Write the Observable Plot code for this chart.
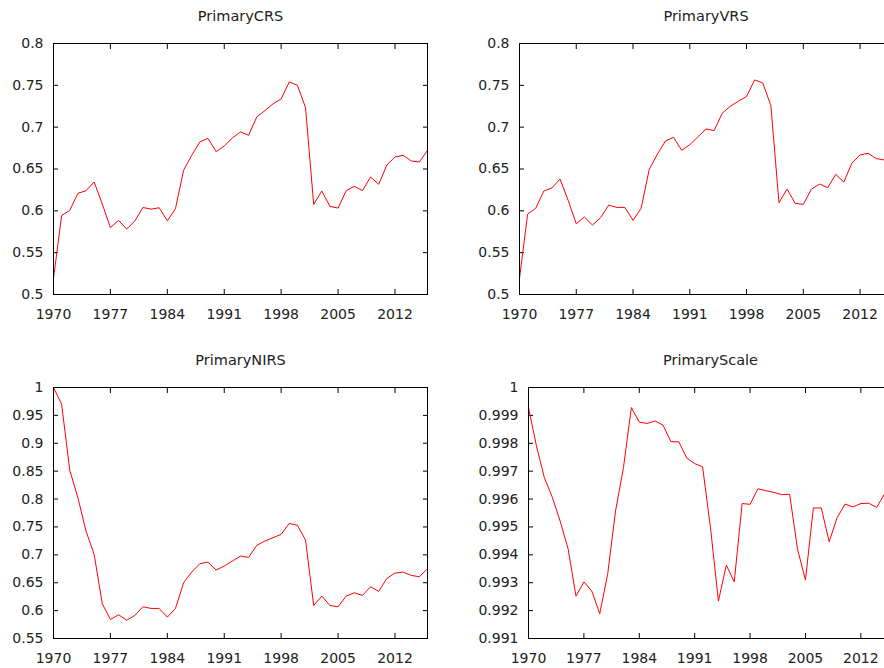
<!DOCTYPE html>
<html><head><meta charset="utf-8">
<script src="https://cdn.jsdelivr.net/npm/d3@7"></script>
<script src="https://cdn.jsdelivr.net/npm/@observablehq/plot@0.6"></script>
<style>
body{margin:0;background:#fff;}
#wrap{position:relative;width:884px;height:668px;overflow:hidden;background:#fff;}
#wrap svg{position:absolute;max-width:none;}
#wrap svg text{font-family:'DejaVu Sans',sans-serif;fill:#222;}
</style></head><body><div id="wrap"></div>
<script>
const years = [1970,1971,1972,1973,1974,1975,1976,1977,1978,1979,1980,1981,1982,1983,1984,1985,1986,1987,1988,1989,1990,1991,1992,1993,1994,1995,1996,1997,1998,1999,2000,2001,2002,2003,2004,2005,2006,2007,2008,2009,2010,2011,2012,2013,2014,2015,2016];

const primaryCRS = [0.519,0.5945,0.6005,0.621,0.624,0.6345,0.608,0.580,0.5886,0.5782,0.5878,0.604,0.602,0.6037,0.588,0.6025,0.6484,0.6664,0.6823,0.6867,0.6707,0.6775,0.6871,0.6943,0.6903,0.7122,0.7198,0.7278,0.7338,0.7541,0.7501,0.7234,0.6077,0.6237,0.6053,0.6033,0.6241,0.6293,0.6241,0.6404,0.6317,0.6548,0.6644,0.6664,0.6596,0.6584,0.6723];

const primaryVRS = [0.519,0.5961,0.603,0.6237,0.6273,0.638,0.6125,0.5846,0.5926,0.583,0.5918,0.6069,0.6041,0.6041,0.5886,0.603,0.6496,0.6676,0.6835,0.6879,0.6723,0.6791,0.6883,0.6979,0.6959,0.7166,0.725,0.731,0.7366,0.7565,0.7529,0.7258,0.6097,0.626,0.6089,0.6077,0.626,0.632,0.6277,0.6436,0.6344,0.6572,0.6668,0.6688,0.6624,0.6608,0.674];

const primaryNIRS = [1.0,0.970,0.8516,0.8025,0.7427,0.7008,0.6122,0.5841,0.5925,0.5829,0.5913,0.6069,0.6039,0.6039,0.5883,0.6039,0.6499,0.6691,0.684,0.687,0.6727,0.6799,0.6888,0.6978,0.6954,0.717,0.7247,0.7307,0.7367,0.7564,0.7529,0.7265,0.6092,0.626,0.6092,0.6069,0.626,0.632,0.6272,0.6428,0.6344,0.6577,0.6673,0.6691,0.6631,0.6607,0.6751];

const primaryScale = [0.99928,0.99791,0.99677,0.99607,0.99521,0.99422,0.99252,0.99303,0.9927,0.99189,0.9933,0.99557,0.99713,0.99928,0.99876,0.99871,0.9988,0.99865,0.99806,0.99805,0.99747,0.99727,0.99716,0.99497,0.99234,0.99363,0.99303,0.99584,0.99581,0.99637,0.9963,0.99624,0.99616,0.99617,0.9942,0.9931,0.99568,0.99568,0.99447,0.99533,0.99582,0.99572,0.99584,0.99585,0.9957,0.99619,0.9965];

const xTicks = [1970,1977,1984,1991,1998,2005,2012];
const ticksEff = [0.5,0.55,0.6,0.65,0.7,0.75,0.8];
const ticksNIRS = [0.55,0.6,0.65,0.7,0.75,0.8,0.85,0.9,0.95,1];
const ticksScale = [0.991,0.992,0.993,0.994,0.995,0.996,0.997,0.998,0.999,1];
const titles = ["PrimaryCRS","PrimaryVRS","PrimaryNIRS","PrimaryScale"];

const wrap = document.getElementById("wrap");

function panel(title, values, yTicks, box) {
  const data = years.map((y, i) => ({year: y, value: values[i]}));
  const svg = Plot.plot({
    width: box.w, height: box.h,
    marginLeft: box.ml, marginRight: box.mr, marginTop: box.mt, marginBottom: box.mb,
    style: {fontFamily: "'DejaVu Sans', sans-serif", fontSize: "14px", color: "#222", background: "transparent", overflow: "visible"},
    x: {domain: [1970, 2016]},
    y: {domain: [yTicks[0], yTicks[yTicks.length - 1]]},
    marks: [
      Plot.axisX(xTicks, {anchor: "bottom", tickSize: -5, tickPadding: 19.5, tickFormat: d => String(d), label: null, stroke: "black", fontSize: 14}),
      Plot.axisX(xTicks, {anchor: "top", tickSize: -5, tickFormat: () => "", label: null, stroke: "black"}),
      Plot.axisY(yTicks, {anchor: "left", tickSize: -5, tickPadding: 15, tickFormat: d => String(d), label: null, stroke: "black", fontSize: 14}),
      Plot.axisY(yTicks, {anchor: "right", tickSize: -5, tickFormat: () => "", label: null, stroke: "black"}),
      Plot.line(data, {x: "year", y: "value", stroke: "red", strokeWidth: 1}),
      Plot.frame({stroke: "black"}),
      Plot.text([title], {text: d => d, frameAnchor: "top", dy: -27, lineAnchor: "middle", fontSize: 14.5, fill: "#222"})
    ]
  });
  svg.style.left = box.left + "px";
  svg.style.top = box.top + "px";
  wrap.appendChild(svg);
}

panel(titles[0], primaryCRS, ticksEff, {left: 0, top: 0, w: 440, h: 334, ml: 53, mr: 13, mt: 43, mb: 40});
panel(titles[1], primaryVRS, ticksEff, {left: 442, top: 0, w: 460, h: 334, ml: 77, mr: 10, mt: 43, mb: 40});
panel(titles[2], primaryNIRS, ticksNIRS, {left: 0, top: 334, w: 440, h: 334, ml: 53, mr: 13, mt: 53, mb: 30});
panel(titles[3], primaryScale, ticksScale, {left: 442, top: 334, w: 460, h: 334, ml: 86, mr: 10, mt: 53, mb: 30});
</script>
</body></html>
